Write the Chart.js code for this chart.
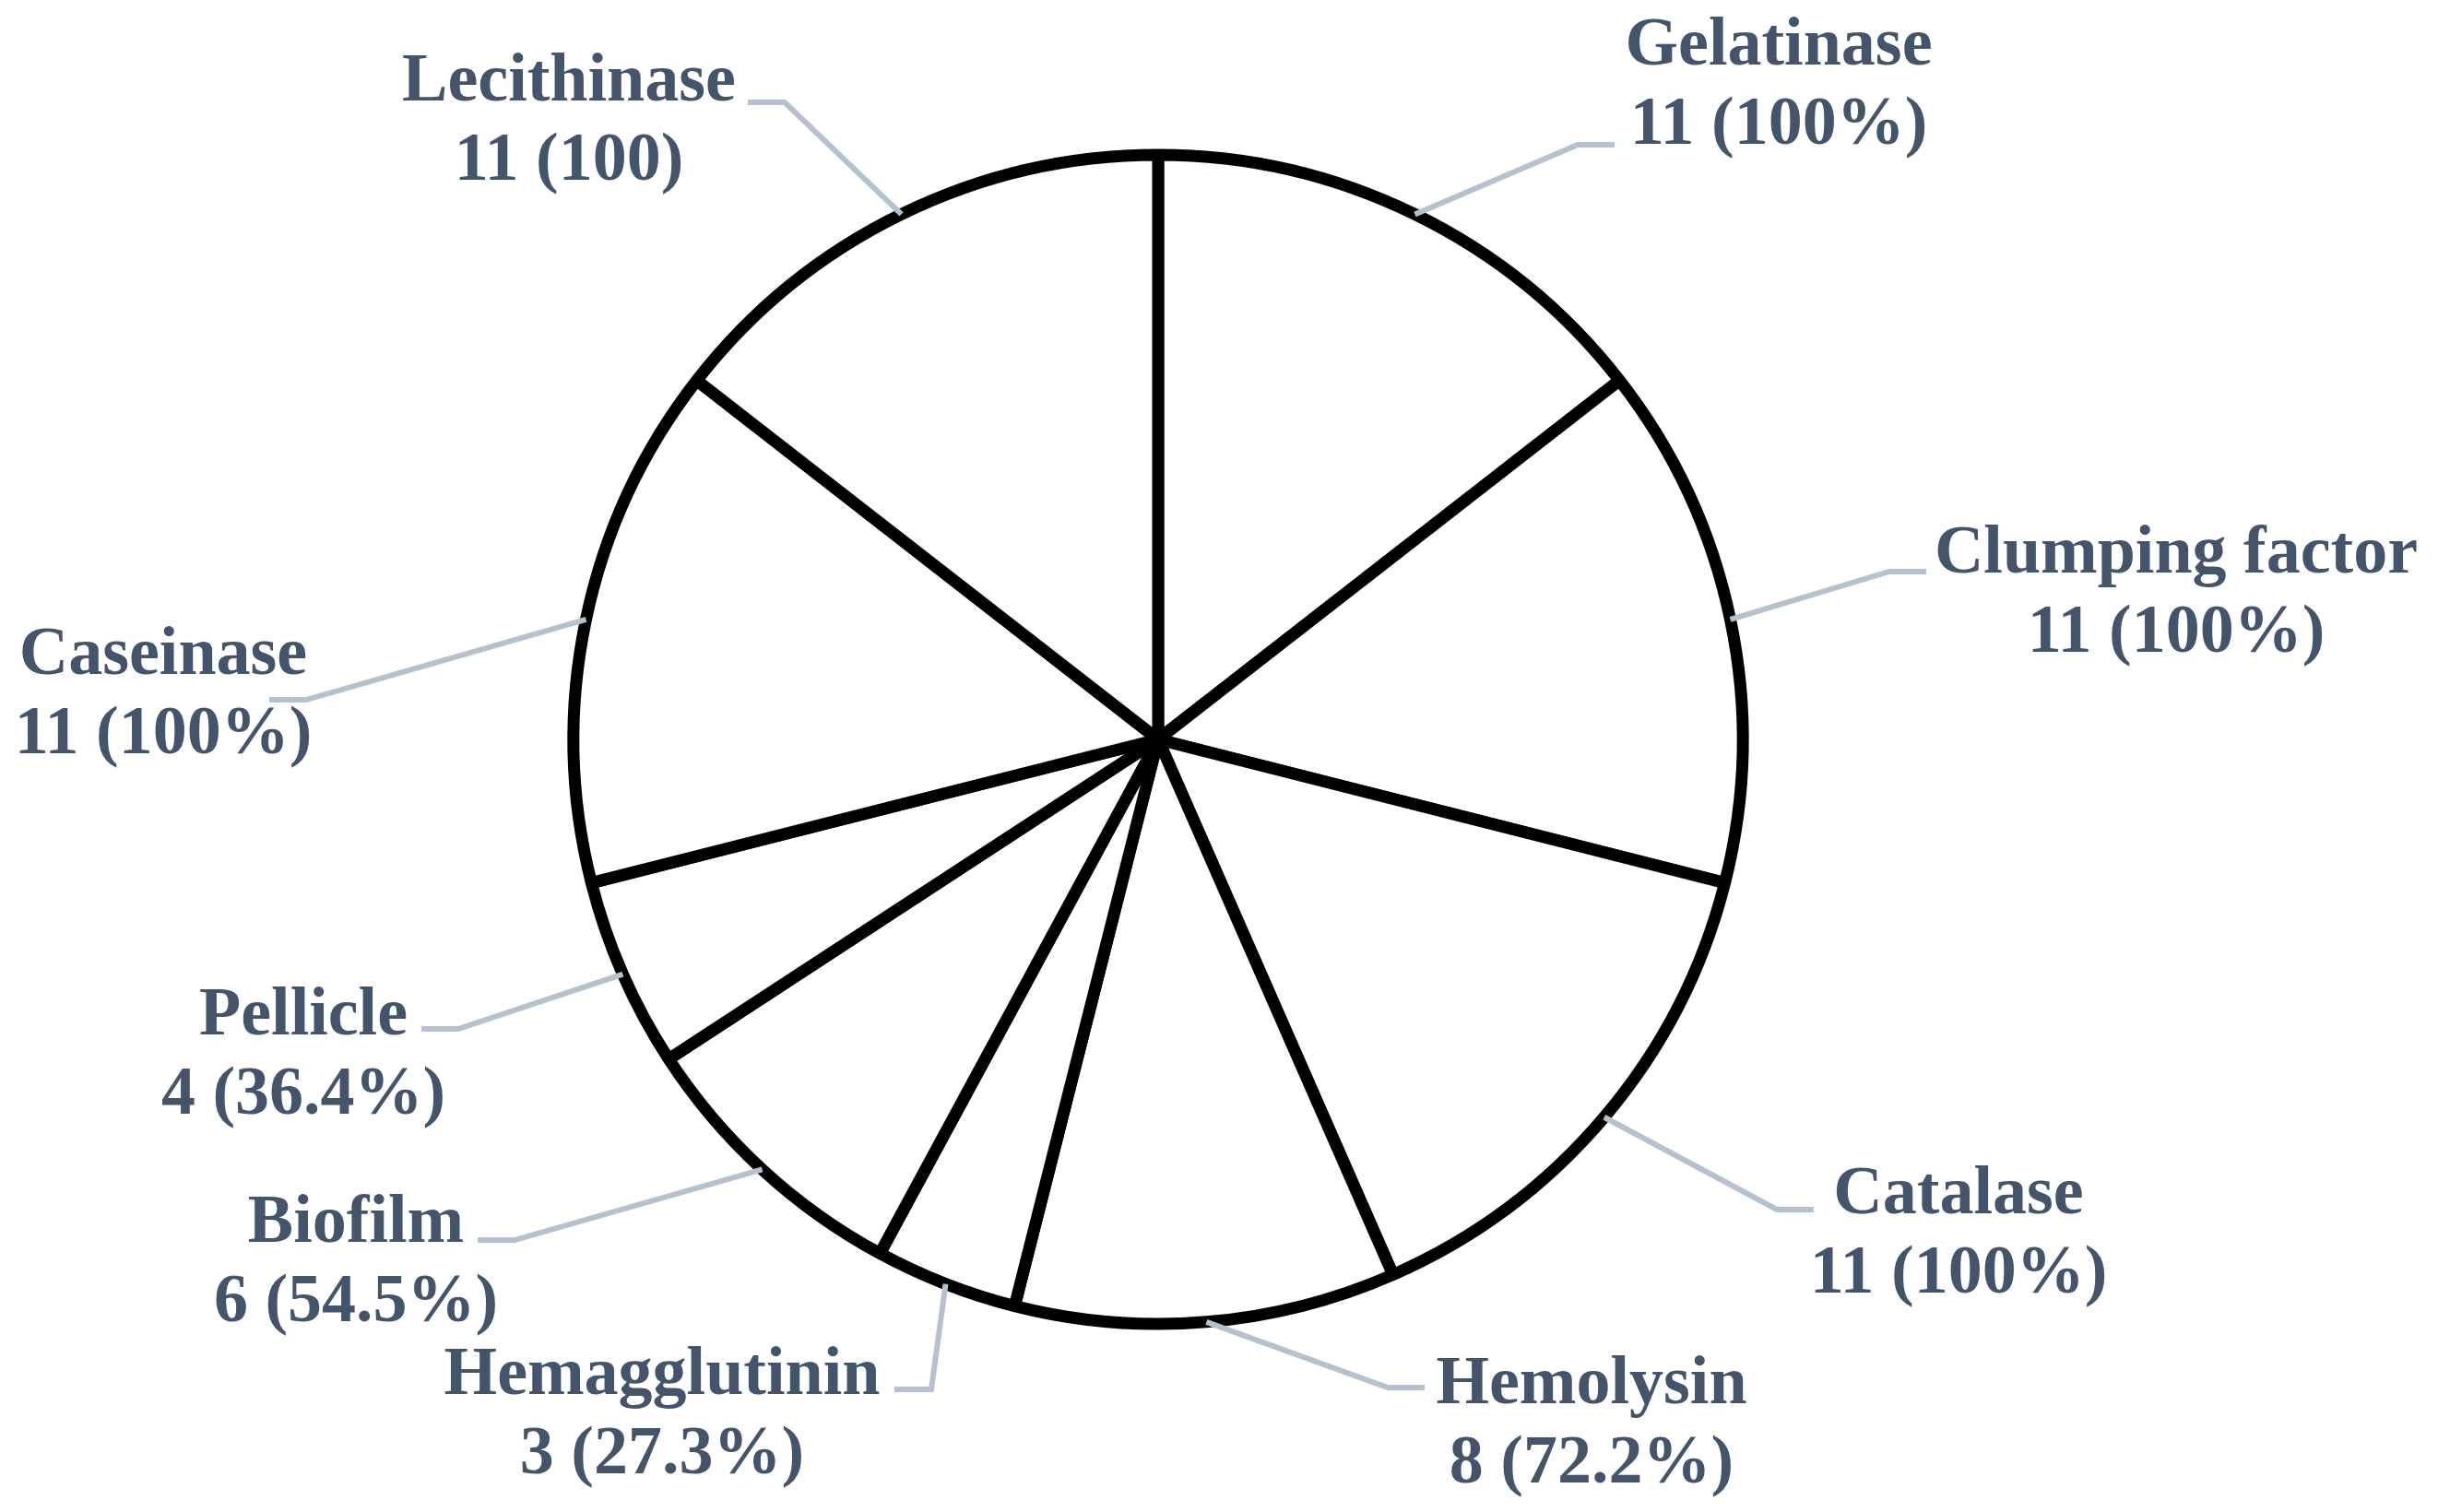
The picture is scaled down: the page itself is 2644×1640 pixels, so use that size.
<!DOCTYPE html>
<html>
<head>
<meta charset="utf-8">
<script src="https://cdn.jsdelivr.net/npm/chart.js@4.4.1/dist/chart.umd.min.js"></script>
<style>
  html, body { margin: 0; padding: 0; background: #ffffff; }
  #wrap { width: 2644px; height: 1640px; }
</style>
</head>
<body>
<div id="wrap"><canvas id="pieChart" width="2644" height="1640"></canvas></div>
<script>
const categories = ['Gelatinase', 'Clumping factor', 'Catalase', 'Hemolysin', 'Hemagglutinin', 'Biofilm', 'Pellicle', 'Caseinase', 'Lecithinase'];
const counts = [11, 11, 11, 8, 3, 6, 4, 11, 11];
const percentLabels = ['(100%)', '(100%)', '(100%)', '(72.2%)', '(27.3%)', '(54.5%)', '(36.4%)', '(100%)', '(100)'];

// label block centres and leader elbows, in units of the pie radius from its centre
const labelPos = [
    [1.0615, -1.1246], [1.7413, -0.2555], [1.3691, 0.8407],
    [0.7413, 1.1656], [-0.8486, 1.1498], [-1.3722, 0.8896],
    [-1.4621, 0.5347], [-1.7019, -0.0820], [-1.0079, -1.0631]
];
const elbowPos = [
    [0.7177, -1.0174], [1.2508, -0.2871], [1.0584, 0.8044],
    [0.3927, 1.1088], [-0.3880, 1.1120], [-1.1009, 0.8565],
    [-1.1972, 0.4953], [-1.4574, -0.0678], [-0.6388, -1.0899]
];

const textColor = '#44546A';
const leaderColor = '#B6C1CF';

const labelPlugin = {
    id: 'outsideLabels',
    afterDatasetsDraw(chart) {
        const ctx = chart.ctx;
        const meta = chart.getDatasetMeta(0);
        ctx.save();
        meta.data.forEach((arc, i) => {
            const p = arc.getProps(['x', 'y', 'startAngle', 'endAngle', 'outerRadius'], true);
            const r = p.outerRadius;
            const mid = (p.startAngle + p.endAngle) / 2;
            const ax = p.x + Math.cos(mid) * r;
            const ay = p.y + Math.sin(mid) * r;
            const ex = p.x + elbowPos[i][0] * r;
            const ey = p.y + elbowPos[i][1] * r;
            const lx = p.x + labelPos[i][0] * r;
            const ly = p.y + labelPos[i][1] * r + 5;
            const dir = lx > ex ? 1 : -1;

            ctx.beginPath();
            ctx.moveTo(ax, ay);
            ctx.lineTo(ex, ey);
            ctx.lineTo(ex + dir * 40, ey);
            ctx.strokeStyle = leaderColor;
            ctx.lineWidth = 6;
            ctx.lineJoin = 'miter';
            ctx.stroke();

            ctx.fillStyle = textColor;
            ctx.font = 'bold 74px "Liberation Serif", "Times New Roman", serif';
            ctx.textAlign = 'center';
            ctx.textBaseline = 'middle';
            ctx.fillText(categories[i], lx, ly - 43);
            ctx.fillText(counts[i] + ' ' + percentLabels[i], lx, ly + 43);
        });
        ctx.restore();
    }
};

new Chart(document.getElementById('pieChart'), {
    type: 'pie',
    data: {
        labels: categories,
        datasets: [{
            data: counts,
            backgroundColor: '#ffffff',
            borderColor: '#000000',
            borderWidth: 13,
            hoverOffset: 0,
            offset: 0
        }]
    },
    options: {
        responsive: false,
        animation: false,
        layout: {
            padding: { left: 615.5, right: 747.5, top: 161.5, bottom: 197.5 }
        },
        plugins: {
            legend: { display: false },
            tooltip: { enabled: false }
        }
    },
    plugins: [labelPlugin]
});
</script>
</body>
</html>
